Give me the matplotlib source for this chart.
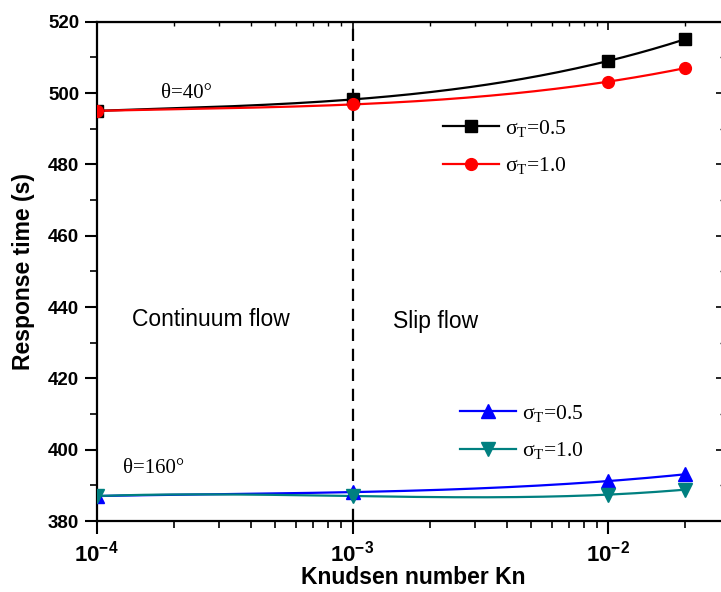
import numpy as np
import matplotlib
matplotlib.use("Agg")
import matplotlib.pyplot as plt
from matplotlib.ticker import MultipleLocator, LogLocator, NullFormatter, FuncFormatter

plt.rcParams['font.family'] = ['Liberation Sans', 'DejaVu Sans']
plt.rcParams['mathtext.fontset'] = 'custom'
plt.rcParams['mathtext.rm'] = 'Liberation Serif'
plt.rcParams['mathtext.it'] = 'Liberation Serif:italic'
plt.rcParams['mathtext.bf'] = 'Liberation Sans:bold'

# data
kn = [1e-4, 1e-3, 1e-2, 2e-2]
t40_s05 = [495.0, 498.2, 509.0, 515.1]
t40_s10 = [495.0, 496.8, 503.2, 507.0]
t160_s05 = [387.0, 388.1, 391.2, 393.1]
t160_s10 = [387.0, 387.0, 387.4, 388.8]

series = [
    (t40_s05, 'black', 's', 8, 'σ$_\\mathrm{T}$=0.5'),
    (t40_s10, '#ff0000', 'o', 8.5, 'σ$_\\mathrm{T}$=1.0'),
    (t160_s05, '#0000ff', '^', 10, 'σ$_\\mathrm{T}$=0.5'),
    (t160_s10, '#008080', 'v', 10, 'σ$_\\mathrm{T}$=1.0'),
]


def smooth(x, y):
    # cubic through the points in log-x space, just for the drawn line
    lx = np.log10(x)
    c = np.polyfit(lx, y, 3)
    xs = np.linspace(lx[0], lx[-1], 200)
    return 10 ** xs, np.polyval(c, xs)


fig = plt.figure(figsize=(7.21, 5.92), dpi=100)
ax = fig.add_axes([96.7 / 721, 1 - 521 / 592, (724 - 96.7) / 721, (521 - 21.7) / 592])
ax.set_xscale('log')
ax.set_xlim(1e-4, 10 ** (-4 + (724 - 96.7) / 255.8))
ax.set_ylim(380, 520)

handles = []
for y, col, mk, ms, lab in series:
    xs, ys = smooth(kn, y)
    ln, = ax.plot(xs, ys, color=col, lw=1.6, zorder=3)
    mm, = ax.plot(kn, y, ls='none', marker=mk, ms=ms, color=col, zorder=4)
    handles.append(((ln, mm), lab))

ax.axvline(1e-3, color='black', lw=1.6, ls=(0, (5.5, 3.5)), zorder=2)

# ticks
ax.yaxis.set_major_locator(MultipleLocator(20))
ax.yaxis.set_minor_locator(MultipleLocator(10))
ax.xaxis.set_major_locator(LogLocator(base=10, numticks=10))
ax.xaxis.set_minor_locator(LogLocator(base=10, subs=np.arange(2, 10), numticks=20))
ax.xaxis.set_minor_formatter(NullFormatter())
ax.xaxis.set_major_formatter(FuncFormatter(
    lambda v, p: r'$\mathbf{10^{%d}}$' % round(np.log10(v))))
ax.tick_params(which='major', direction='out', length=9, width=1.5)
ax.tick_params(which='minor', direction='out', length=5, width=1.2)
ax.tick_params(axis='y', labelsize=13.5)
ax.tick_params(axis='x', labelsize=16, pad=5)
for lbl in ax.get_yticklabels():
    lbl.set_fontweight('bold')
for sp in ax.spines.values():
    sp.set_linewidth(1.6)

top = ax.secondary_xaxis('top')
top.tick_params(which='major', direction='in', length=6, width=1.2, labeltop=False)
top.tick_params(which='minor', direction='in', length=3, width=1.0)
top.xaxis.set_major_formatter(NullFormatter())
top.xaxis.set_minor_formatter(NullFormatter())
right = ax.secondary_yaxis('right')
right.yaxis.set_major_locator(MultipleLocator(20))
right.yaxis.set_minor_locator(MultipleLocator(10))
right.tick_params(which='major', direction='in', length=6, width=1.2, labelright=False)
right.tick_params(which='minor', direction='in', length=3, width=1.0)

ax.set_xlabel('Knudsen number Kn', fontsize=16.5, fontweight='bold')
ax.set_ylabel('Response time (s)', fontsize=16.5, fontweight='bold')
ax.xaxis.set_label_coords(413.5 / 721, 1 - 577 / 592, transform=fig.transFigure)
ax.yaxis.set_label_coords(24 / 721, 1 - 271 / 592, transform=fig.transFigure)
ax.xaxis.label.set_va('center')
ax.yaxis.label.set_va('center')

# annotations
serif = 'Liberation Serif'
ax.text(2.25e-4, 500, 'θ=40°', family=serif, fontsize=15, ha='center', va='center')
ax.text(1.67e-4, 394.7, 'θ=160°', family=serif, fontsize=15, ha='center', va='center')
ax.text(2.79e-4, 436.6, 'Continuum flow', fontsize=16.5, ha='center', va='center')
ax.text(2.12e-3, 435.8, 'Slip flow', fontsize=16.5, ha='center', va='center')

leg_kw = dict(frameon=False, handlelength=2.6, handletextpad=0.3, labelspacing=0.75,
              borderpad=0, borderaxespad=0, loc='upper left',
              prop={'family': serif, 'size': 15.5})
h1 = [h for h, _ in handles[:2]]
l1 = [l for _, l in handles[:2]]
h2 = [h for h, _ in handles[2:]]
l2 = [l for _, l in handles[2:]]
leg1 = ax.legend(h1, l1, bbox_to_anchor=(443 / 721, 1 - 118 / 592),
                 bbox_transform=fig.transFigure, **leg_kw)
ax.add_artist(leg1)
ax.legend(h2, l2, bbox_to_anchor=(460 / 721, 1 - 403 / 592),
          bbox_transform=fig.transFigure, **leg_kw)

fig.savefig('out.png', dpi=100)
